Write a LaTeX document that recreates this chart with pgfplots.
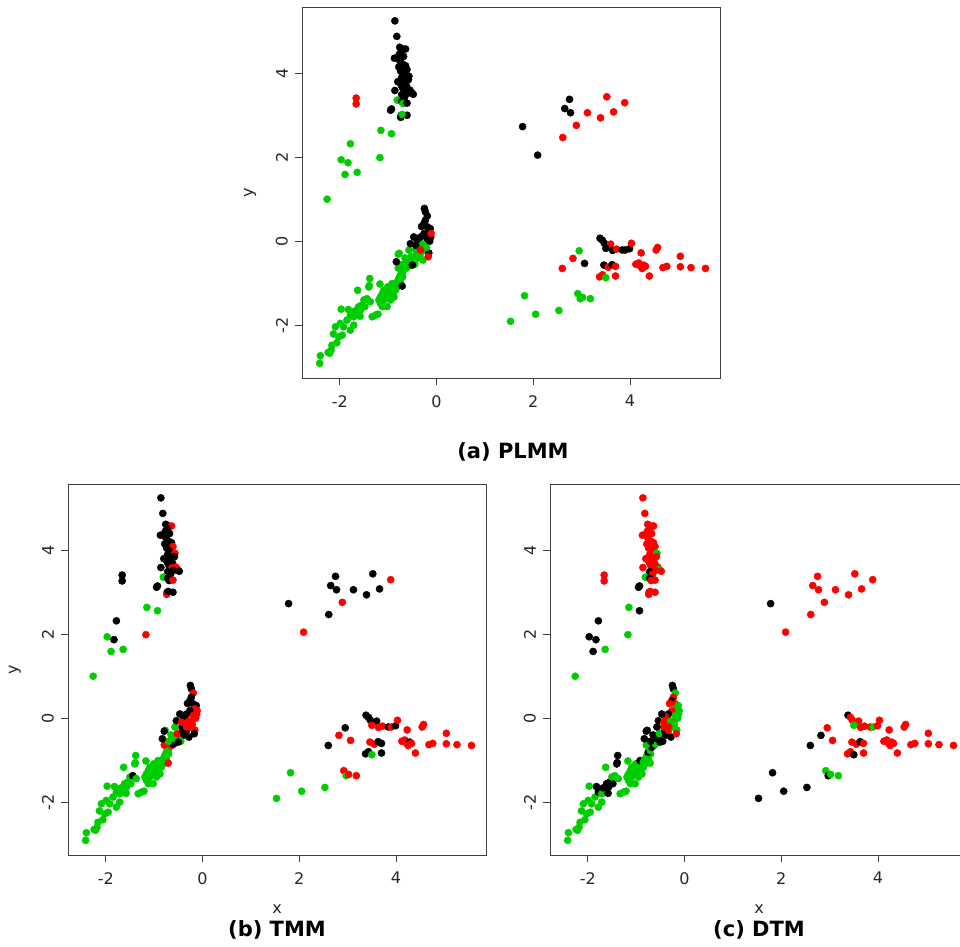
\documentclass[border=0pt]{standalone}
\usepackage{fontspec}
\setmainfont{DejaVu Sans}
\usepackage{pgfplots}
\usepackage{pgfplotstable}
\pgfplotsset{compat=1.18}
\definecolor{rred}{HTML}{FF0000}
\definecolor{rgreen}{HTML}{00CD00}

\pgfplotstableread{
x y a b c
-0.86 5.25 k k r
-0.82 4.88 k k r
-0.76 4.62 k k r
-0.70 4.58 k k r
-0.64 4.58 k r r
-0.73 4.52 k k r
-0.77 4.45 k k r
-0.68 4.40 k k r
-0.87 4.36 k k r
-0.76 4.30 k k r
-0.70 4.22 k k r
-0.64 4.18 k k r
-0.78 4.15 k k r
-0.61 4.09 k r r
-0.74 4.05 k k r
-0.68 3.98 k k r
-0.57 3.93 k r g
-0.72 3.90 k k r
-0.58 3.85 k k r
-0.80 3.80 k k r
-0.66 3.80 k k r
-0.73 3.72 k k r
-0.62 3.70 k k r
-0.70 3.65 k k r
-0.55 3.60 k r r
-0.67 3.62 k k r
-0.63 3.58 k r r
-0.86 3.59 k k r
-0.52 3.55 k r g
-0.60 3.52 k k r
-0.72 3.49 k k k
-0.48 3.50 k k r
-0.66 3.43 k k r
-0.81 3.36 g g g
-0.72 3.33 k k k
-0.69 3.28 g k r
-0.61 3.29 k r r
-0.93 3.15 k k k
-0.95 3.12 k k k
-0.73 3.00 k k k
-0.61 3.00 k k r
-0.74 2.95 k r r
-0.71 3.02 g k r
-1.66 3.41 r k r
-1.66 3.27 r k r
-1.15 2.64 g g g
-0.93 2.56 g g k
-1.78 2.32 g k k
-1.97 1.94 g g k
-1.83 1.87 g k k
-1.17 1.99 g r g
-1.89 1.59 g g k
-1.64 1.64 g g g
-2.26 1.00 g g g
2.75 3.38 k k r
2.65 3.16 k k r
2.77 3.06 k k r
1.78 2.73 k k k
2.09 2.05 k r r
3.52 3.44 r k r
3.89 3.30 r r r
3.12 3.06 r k r
3.66 3.08 r k r
3.39 2.94 r k r
2.89 2.76 r r r
2.61 2.47 r k r
3.38 0.07 k k k
3.43 0.02 k k r
3.47 -0.05 k k r
3.60 -0.07 r k r
3.50 -0.17 k r g
3.64 -0.22 k r r
3.72 -0.19 r r r
3.84 -0.21 k k r
3.90 -0.21 k r g
3.99 -0.18 k k r
4.03 -0.05 r r r
4.23 -0.28 r r r
4.54 -0.21 r r r
4.57 -0.15 r r r
5.04 -0.36 r r r
2.95 -0.23 g k r
2.82 -0.41 r r k
3.06 -0.53 k r r
2.60 -0.65 r k k
3.46 -0.57 k r r
3.55 -0.62 r r r
3.63 -0.56 k k k
3.70 -0.60 r k r
4.12 -0.55 r r r
4.18 -0.52 r r r
4.22 -0.60 r r r
4.28 -0.57 r k r
4.25 -0.65 r r r
4.32 -0.60 r r r
4.40 -0.83 r r r
4.68 -0.63 r r r
4.76 -0.60 r r r
5.04 -0.61 r r r
5.26 -0.63 r r r
5.56 -0.65 r r r
3.37 -0.85 r k r
3.43 -0.80 r k r
3.50 -0.87 g g k
3.70 -0.83 r k r
2.92 -1.25 g r g
2.97 -1.37 g g k
3.02 -1.34 g r g
3.18 -1.37 g r g
1.82 -1.30 g g k
2.05 -1.74 g g k
2.53 -1.65 g g k
1.53 -1.91 g g k
-2.415 -2.91 g g g
-2.40 -2.73 g g g
-2.24 -2.65 g g g
-2.18 -2.60 g g g
-2.21 -2.67 g g g
-2.06 -2.42 g g g
-2.16 -2.48 g g g
-2.13 -2.21 g g g
-2.02 -2.28 g g g
-1.95 -2.24 g g g
-2.09 -2.04 g g g
-1.92 -2.04 g g g
-1.99 -1.96 g g g
-1.85 -1.88 g g g
-1.78 -2.12 g g g
-1.71 -2.00 g g g
-1.78 -1.76 g g k
-1.71 -1.80 g g g
-1.68 -1.66 g g k
-1.61 -1.56 g g k
-1.54 -1.52 g g k
-1.82 -1.63 g g k
-1.48 -1.56 g g k
-1.58 -1.79 g g k
-1.57 -1.64 g g k
-1.50 -1.40 g g g
-1.44 -1.37 g k g
-1.37 -1.44 g g g
-1.97 -1.62 g g g
-1.63 -1.17 g g g
-1.40 -1.09 g g k
-1.39 -1.06 g g k
-1.38 -0.89 g g k
-1.17 -1.02 g g g
-1.33 -1.80 g g g
-1.26 -1.76 g g g
-1.21 -1.74 g g g
-1.12 -1.56 g g g
-1.16 -1.48 g g g
-1.14 -1.45 g g g
-1.19 -1.40 g g g
-1.09 -1.40 g g g
-1.16 -1.33 g g g
-1.06 -1.33 g g g
-1.05 -1.35 g g g
-1.12 -1.25 g g g
-1.02 -1.25 g g g
-1.09 -1.17 g g g
-0.99 -1.17 g g g
-1.00 -1.20 g g g
-1.01 -1.09 g g g
-0.95 -1.09 g g g
-0.98 -1.30 g g g
-1.02 -1.56 g g g
-0.95 -1.40 g g g
-0.88 -1.33 g g g
-0.92 -1.25 g g g
-0.90 -1.15 g g g
-0.93 -1.12 g g g
-0.88 -1.17 g g g
-0.87 -1.08 g g g
-0.85 -1.17 g g g
-0.92 -1.01 g g k
-0.85 -1.05 g g g
-0.83 -1.00 g g g
-0.81 -1.09 g g g
-0.78 -1.05 g g g
-0.81 -0.97 g g g
-0.76 -0.92 g g g
-0.75 -0.97 g g g
-0.78 -0.89 g g g
-0.70 -0.85 g g g
-0.75 -0.81 g g k
-0.71 -0.77 g g g
-0.68 -0.69 g g k
-0.64 -0.65 g r k
-0.79 -0.64 g r g
-0.60 -0.62 g k g
-0.61 -0.57 g k g
-0.70 -0.55 g g k
-0.45 -0.55 g g k
-0.57 -0.49 g g k
-0.54 -0.45 g g k
-0.65 -0.40 g g k
-0.47 -0.37 g r k
-0.52 -0.37 g r g
-0.40 -0.33 g k k
-0.38 -0.40 g k k
-0.28 -0.45 g k k
-0.33 -0.29 g k r
-0.26 -0.21 g r g
-0.23 -0.10 g r r
-0.30 -0.06 g r g
-0.43 -0.21 g k r
-0.57 -0.21 g g k
-0.77 -0.29 g g k
-0.79 -0.31 g k k
-0.25 0.78 k k k
-0.23 0.70 k k k
-0.19 0.60 k r g
-0.23 0.50 k k r
-0.26 0.42 k k k
-0.19 0.34 k k r
-0.31 0.35 k k r
-0.13 0.30 k k g
-0.16 0.22 k r g
-0.12 0.10 k r g
-0.26 0.18 k k r
-0.33 0.10 k k k
-0.40 0.04 k k r
-0.47 0.10 k k k
-0.54 -0.06 k k k
-0.43 -0.10 k r r
-0.16 -0.28 k r g
-0.19 0.06 k r g
-0.14 0.00 k r g
-0.21 -0.15 g r g
-0.11 0.18 r r g
-0.33 -0.21 r r r
-0.17 -0.37 r k r
-0.83 -0.49 k k k
-0.50 -0.57 k k k
-0.71 -1.07 k r g
}\pts

\pgfplotsset{
  panel/.style={
    scale only axis, width=418pt, height=371pt,
    xmin=-2.78, xmax=5.86, ymin=-3.26, ymax=5.58,
    axis line style={black!75, line width=0.9pt},
    tick align=outside, tick pos=left,
    major tick length=7pt,
    every tick/.style={black!75, line width=0.9pt},
    xtick={-2,0,2,4}, xticklabels={-2,0,2,4},
    ytick={-2,0,2,4}, yticklabels={-2,0,2,4},
    ticklabel style={font=\fontsize{16}{16}\selectfont, inner sep=0pt, text=black!85},
    xticklabel style={anchor=north},
    xticklabel shift=10pt,
    yticklabel style={rotate=90, anchor=south},
    yticklabel shift=7pt,
    label style={font=\fontsize{16}{16}\selectfont, text=black!85},
  },
  pts/.style={
    scatter, only marks, scatter src=explicit symbolic,
    scatter/classes={
      k={mark=*, draw=black, fill=black, mark size=3.6pt},
      r={mark=*, draw=rred, fill=rred, mark size=3.6pt},
      g={mark=*, draw=rgreen, fill=rgreen, mark size=3.6pt}
    }
  }
}

\begin{document}
\begin{tikzpicture}
\path[use as bounding box] (0pt,0pt) rectangle (960pt,946pt);
\begin{axis}[panel, at={(302pt,568pt)}, anchor=south west,
  ylabel={y}, ylabel style={at={(axis description cs:-0.124,0.5)}, anchor=center}]
\addplot[pts] table[x=x, y=y, meta=a] {\pts};
\end{axis}
\begin{axis}[panel, at={(68pt,91pt)}, anchor=south west,
  ylabel={y}, ylabel style={at={(axis description cs:-0.127,0.5)}, anchor=center},
  xlabel={x}, xlabel style={at={(axis description cs:0.5,-0.1456)}, anchor=center}]
\addplot[pts] table[x=x, y=y, meta=b] {\pts};
\end{axis}
\begin{axis}[panel, at={(550pt,91pt)}, anchor=south west,
  xlabel={x}, xlabel style={at={(axis description cs:0.5,-0.1456)}, anchor=center}]
\addplot[pts] table[x=x, y=y, meta=c] {\pts};
\end{axis}
\node[font=\fontsize{21}{21}\bfseries\selectfont] at (513pt,494pt) {(a) PLMM};
\node[font=\fontsize{21}{21}\bfseries\selectfont] at (277pt,16pt) {(b) TMM};
\node[font=\fontsize{21}{21}\bfseries\selectfont] at (759pt,16pt) {(c) DTM};
\end{tikzpicture}
\end{document}
